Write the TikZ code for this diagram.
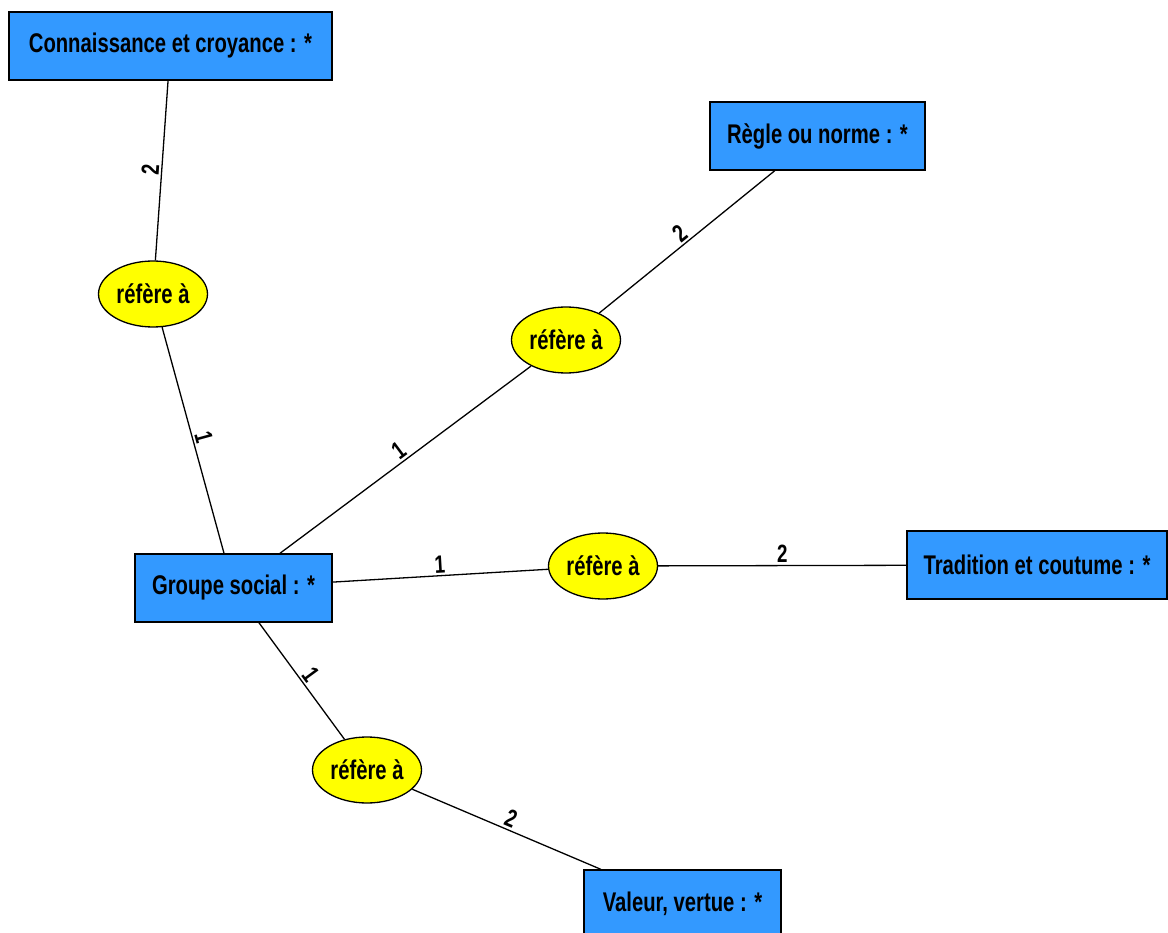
\documentclass[tikz,border=0pt]{standalone}
\usepackage{fontspec}
\setmainfont{Liberation Sans}[FakeStretch=0.75]
\usetikzlibrary{shapes.geometric}
\definecolor{boxblue}{HTML}{3399FF}
\definecolor{relyellow}{HTML}{FFFF00}
\begin{document}
\begin{tikzpicture}[x=1pt,y=-1pt,
  cls/.style={draw=black, line width=1.3pt, fill=boxblue, rectangle, inner sep=0pt,
    minimum height=68pt, font=\fontsize{27}{30}\selectfont\bfseries},
  rel/.style={draw=black, line width=1.3pt, fill=relyellow, ellipse, inner sep=0pt,
    minimum width=109pt, minimum height=66pt, font=\fontsize{27}{30}\selectfont\bfseries},
  conn/.style={draw=black, line width=1.3pt},
  card/.style={font=\fontsize{25}{28}\selectfont\bfseries, sloped, above, inner sep=2pt}]
\useasboundingbox (0,0) rectangle (1168,933);
\clip (0,0) rectangle (1168,933);
% classes
\node[cls, minimum width=323pt] (kn) at (170.5,46) {Connaissance et croyance : *};
\node[cls, minimum width=215pt] (rg) at (817.5,136) {Règle ou norme : *};
\node[cls, minimum width=197pt] (gs) at (233.5,588) {Groupe social : *};
\node[cls, minimum width=260pt] (tr) at (1037,565) {Tradition et coutume : *};
\node[cls, minimum width=197pt] (va) at (682.5,904) {Valeur, vertue : *};
% relations
\node[rel] (e1) at (153,294) {réfère à};
\node[rel] (e2) at (566,340) {réfère à};
\node[rel] (e3) at (603,566) {réfère à};
\node[rel] (e4) at (367,770) {réfère à};
% connectors
\draw[conn] (e1) -- node[card] {2} (kn);
\draw[conn] (gs) -- node[card] {1} (e1);
\draw[conn] (gs) -- node[card] {1} (e2);
\draw[conn] (e2) -- node[card] {2} (rg);
\draw[conn] (gs) -- node[card] {1} (e3);
\draw[conn] (e3) -- node[card] {2} (tr);
\draw[conn] (gs) -- node[card] {1} (e4);
\draw[conn] (e4) -- node[card] {2} (va);
\end{tikzpicture}
\end{document}
